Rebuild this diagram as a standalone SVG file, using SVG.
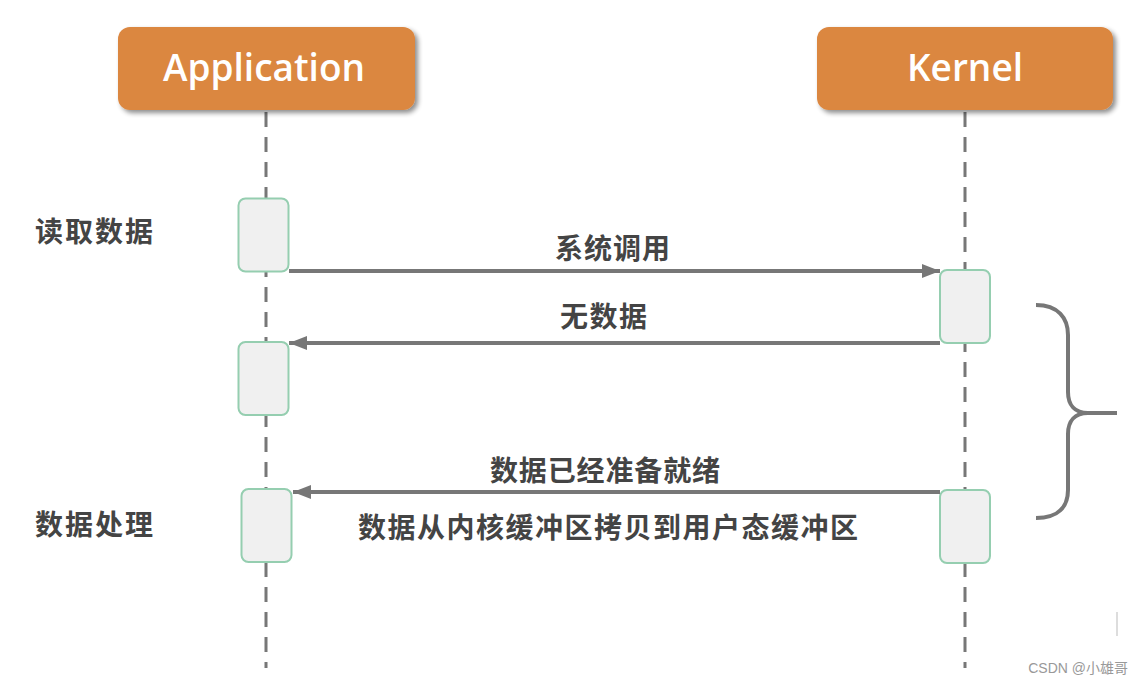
<svg xmlns="http://www.w3.org/2000/svg" width="1142" height="684" viewBox="0 0 1142 684">
<defs>
<filter id="sh" x="-10%" y="-20%" width="130%" height="150%">
<feGaussianBlur in="SourceAlpha" stdDeviation="2.5"/>
<feOffset dx="3" dy="3" result="b"/>
<feComponentTransfer><feFuncA type="linear" slope="0.45"/></feComponentTransfer>
<feMerge><feMergeNode/><feMergeNode in="SourceGraphic"/></feMerge>
</filter>
<marker id="ah" viewBox="0 0 18 14" refX="18" refY="7" markerWidth="18" markerHeight="14" markerUnits="userSpaceOnUse" orient="auto">
<path d="M0,0 L18,7 L0,14 Z" fill="#777"/>
</marker>
<style>
.hdr{fill:#DB8741;filter:url(#sh)}
.hdrt{font-family:"Open Sans","Noto Sans","Liberation Sans",sans-serif;font-size:37px;font-weight:600;fill:#fff;text-anchor:middle}
.life{stroke:#777;stroke-width:3;stroke-dasharray:15 10;fill:none}
.act{fill:#F0F0F0;stroke:#95CEB0;stroke-width:2}
.msg{stroke:#777;stroke-width:4;fill:none;marker-end:url(#ah)}
.lbl{font-family:"Noto Sans CJK SC","Noto Sans",sans-serif;font-size:28px;font-weight:bold;fill:#444}
</style>
</defs>
<rect width="1142" height="684" fill="#fff"/>
<g id="lifelines">
<line class="life" x1="266" y1="112" x2="266" y2="668"/>
<line class="life" x1="965" y1="112" x2="965" y2="668"/>
</g>
<g id="application">
<rect class="hdr" x="118" y="27" width="297" height="83" rx="12"/>
<text class="hdrt" x="264" y="81">Application</text>
</g>
<g id="kernel">
<rect class="hdr" x="817" y="27" width="296" height="83" rx="12"/>
<text class="hdrt" x="965" y="81">Kernel</text>
</g>
<g id="app-act-1"><rect class="act" x="238.5" y="198.5" width="50" height="73" rx="7"/></g>
<g id="app-act-2"><rect class="act" x="238.5" y="342" width="50" height="73" rx="7"/></g>
<g id="app-act-3"><rect class="act" x="241.5" y="489" width="50" height="73" rx="7"/></g>
<g id="kernel-act-1"><rect class="act" x="940" y="270" width="50" height="73" rx="7"/></g>
<g id="kernel-act-2"><rect class="act" x="940" y="490" width="50" height="73" rx="7"/></g>
<g id="connectors">
<line class="msg" x1="289" y1="271" x2="940" y2="271"/>
<line class="msg" x1="940" y1="343" x2="289" y2="343"/>
<line class="msg" x1="940" y1="492" x2="293" y2="492"/>
<path d="M1036,305 C1058,305 1068,318 1068,335 L1068,392 C1068,405 1075,413 1088,413 L1117,413 M1088,413 C1075,413 1068,421 1068,434 L1068,490 C1068,507 1058,518 1036,518" stroke="#777" stroke-width="4" fill="none"/>
</g>
<g id="labels">
<text class="lbl" x="35" y="242" textLength="118" lengthAdjust="spacing">读取数据</text>
<text class="lbl" x="35" y="535" textLength="118" lengthAdjust="spacing">数据处理</text>
<text class="lbl" x="555" y="259" textLength="115" lengthAdjust="spacing">系统调用</text>
<text class="lbl" x="560" y="327" textLength="87" lengthAdjust="spacing">无数据</text>
<text class="lbl" x="490" y="481" textLength="230" lengthAdjust="spacing">数据已经准备就绪</text>
<text class="lbl" x="358" y="538" textLength="500" lengthAdjust="spacing">数据从内核缓冲区拷贝到用户态缓冲区</text>
</g>
<line x1="1117" y1="612" x2="1117" y2="636" stroke="#ddd" stroke-width="2"/>
<text x="1128" y="673" text-anchor="end" font-family="'Liberation Sans','Noto Sans CJK SC',sans-serif" font-size="14" fill="#999">CSDN @小雄哥</text>
</svg>
